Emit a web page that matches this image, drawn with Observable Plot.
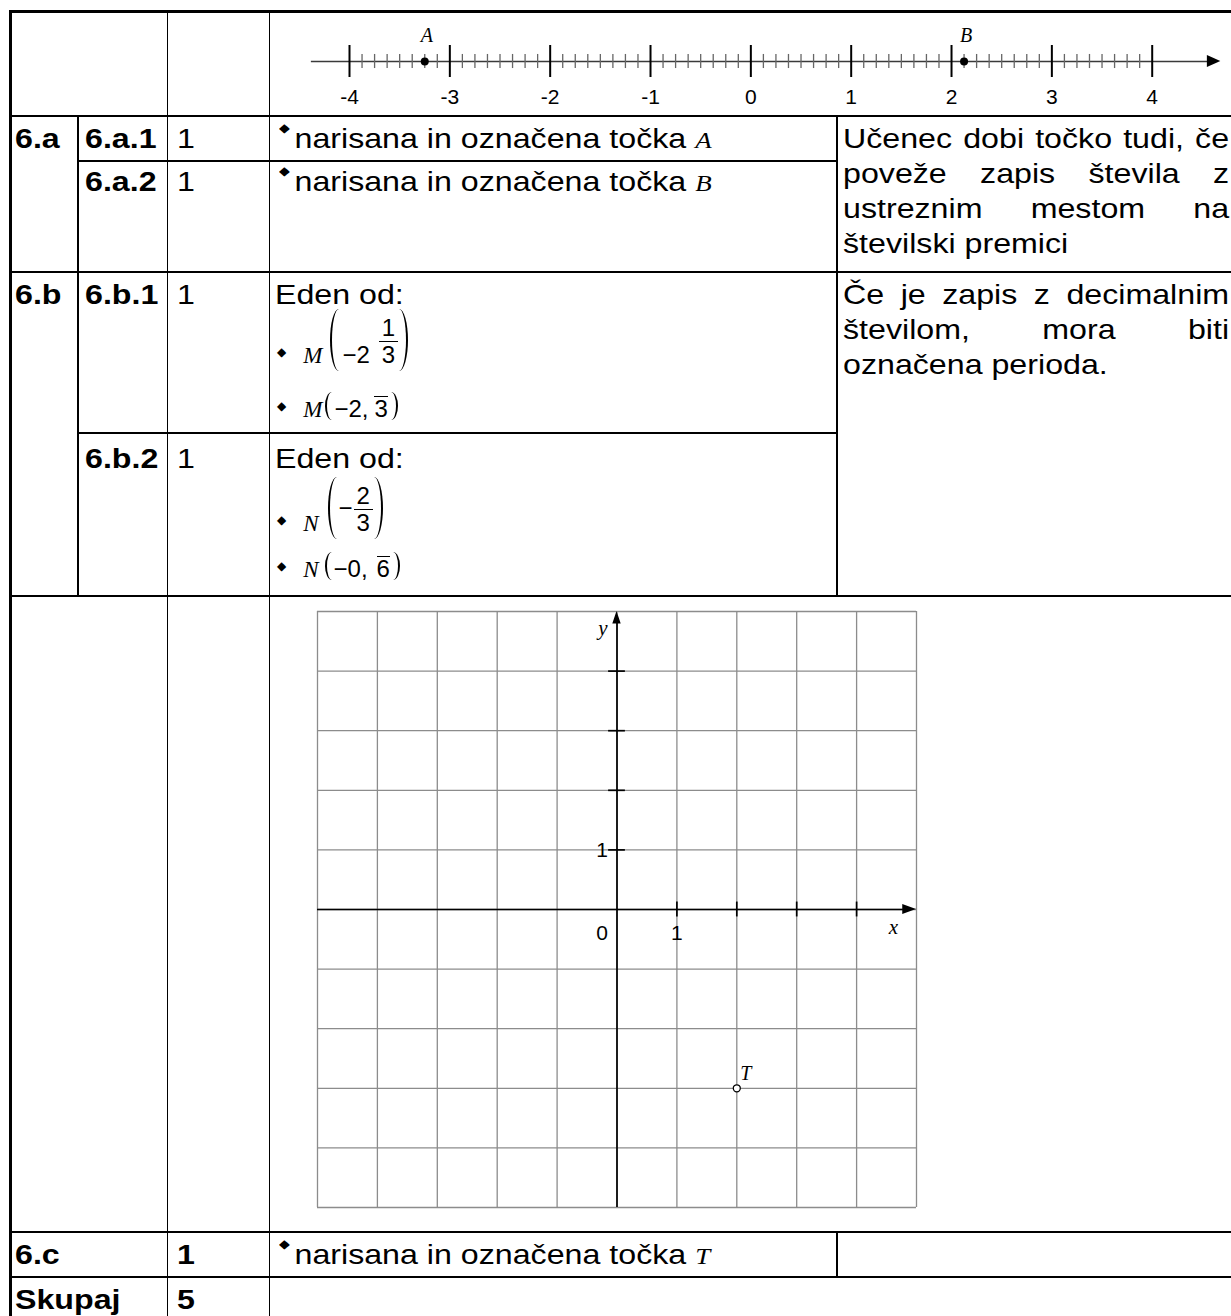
<!DOCTYPE html>
<html lang="sl">
<head>
<meta charset="utf-8">
<title>Naloga 6</title>
<script src="https://cdn.jsdelivr.net/npm/d3@7"></script>
<script src="https://cdn.jsdelivr.net/npm/@observablehq/plot@0.6"></script>
<style>
html,body{margin:0;padding:0;background:#fff;}
#page{position:relative;width:1231px;height:1316px;overflow:hidden;background:#fff;color:#000;font-family:"Liberation Sans",Arial,sans-serif;}
.h{position:absolute;height:1.5px;background:#000;}
.v{position:absolute;width:1.5px;background:#000;}
.t{position:absolute;font-size:27.5px;line-height:27.5px;white-space:nowrap;transform:scaleX(1.17);transform-origin:0 0;}
.note{position:absolute;font-size:27.5px;line-height:35px;width:330px;text-align:justify;transform:scaleX(1.17);transform-origin:0 0;}
.b{font-weight:bold;}
.bul{font-family:"DejaVu Sans";font-size:12px;position:relative;}
.var{font-family:"Liberation Serif";font-style:italic;font-size:23px;}
.ml{position:absolute;font-size:30px;line-height:35px;white-space:nowrap;}
.mi{font-family:"Liberation Serif";font-style:italic;font-size:23px;}
.mn{font-size:24px;}
.pl,.pr,.spl,.spr{display:inline-block;box-sizing:border-box;position:relative;vertical-align:baseline;}
.pl,.pr{width:9px;height:62px;margin-top:-62px;top:8px;}
.spl,.spr{width:7px;height:28px;margin-top:-28px;top:3px;}
.pl{border-left:2.2px solid #000;border-radius:9px 0 0 9px / 31px 0 0 31px;}
.pr{border-right:2.2px solid #000;border-radius:0 9px 9px 0 / 0 31px 31px 0;}
.spl{border-left:2px solid #000;border-radius:7px 0 0 7px / 14px 0 0 14px;}
.spr{border-right:2px solid #000;border-radius:0 7px 7px 0 / 0 14px 14px 0;}
.frac{display:inline-block;vertical-align:baseline;text-align:center;margin-top:-25px;font-size:24px;line-height:1;}
.frac .fn{display:block;padding:0 3px 1px;}
.frac .fd{display:block;border-top:1.5px solid #000;padding:1px 3px 0;}
.ov{display:inline-block;border-top:1.5px solid #000;line-height:1;font-size:24px;}
.fig{position:absolute;}
</style>
</head>
<body>
<div id="page">
  <!-- table rules -->
  <div class="h" style="left:9px;top:9.5px;width:1222px;height:3px"></div>
  <div class="v" style="left:9px;top:9.5px;height:1307px;width:3px"></div>
  <div class="h" style="left:9px;top:115px;width:1222px"></div>
  <div class="h" style="left:77px;top:160px;width:760px"></div>
  <div class="h" style="left:9px;top:271px;width:1222px"></div>
  <div class="h" style="left:77px;top:432px;width:760px"></div>
  <div class="h" style="left:9px;top:595px;width:1222px"></div>
  <div class="h" style="left:9px;top:1231px;width:1222px"></div>
  <div class="h" style="left:9px;top:1276px;width:1222px"></div>
  <div class="v" style="left:77px;top:115px;height:481px"></div>
  <div class="v" style="left:166.5px;top:10px;height:1306px"></div>
  <div class="v" style="left:268.5px;top:10px;height:1306px"></div>
  <div class="v" style="left:836.3px;top:115px;height:481px"></div>
  <div class="v" style="left:836.3px;top:1231px;height:46px;width:2px"></div>

  <!-- 6.a -->
  <div class="t b" style="left:15px;top:124.7px">6.a</div>
  <div class="t b" style="left:85px;top:124.7px">6.a.1</div>
  <div class="t" style="left:177px;top:124.7px">1</div>
  <div class="t" style="left:279px;top:124.7px"><span class="bul" style="top:-16px;margin-right:4px">◆</span>narisana in označena točka <span class="var">A</span></div>
  <div class="t b" style="left:85px;top:167.7px">6.a.2</div>
  <div class="t" style="left:177px;top:167.7px">1</div>
  <div class="t" style="left:279px;top:167.7px"><span class="bul" style="top:-16px;margin-right:4px">◆</span>narisana in označena točka <span class="var">B</span></div>
  <div class="note" style="left:843px;top:121px">Učenec dobi točko tudi, če poveže zapis števila z ustreznim mestom na številski premici</div>

  <!-- 6.b -->
  <div class="t b" style="left:15px;top:280.7px">6.b</div>
  <div class="t b" style="left:85px;top:280.7px">6.b.1</div>
  <div class="t" style="left:177px;top:280.7px">1</div>
  <div class="t" style="left:275px;top:280.7px">Eden od:</div>
  <div class="ml" style="left:277px;top:335px"><span class="bul" style="top:-7px">◆</span><span class="mi" style="margin-left:17px">M</span><span class="pl" style="margin-left:8px;margin-right:3px"></span><span class="mn">−2</span><span class="frac" style="margin-left:9px"><span class="fn">1</span><span class="fd">3</span></span><span class="pr" style="margin-left:1px"></span></div>
  <div class="ml" style="left:277px;top:389px"><span class="bul" style="top:-7px">◆</span><span class="mi" style="margin-left:17px">M</span><span class="spl" style="margin-left:3px;margin-right:2px"></span><span class="mn">−2,</span><span class="ov" style="margin-left:6px">3</span><span class="spr" style="margin-left:3px"></span></div>
  <div class="t b" style="left:85px;top:444.7px">6.b.2</div>
  <div class="t" style="left:177px;top:444.7px">1</div>
  <div class="t" style="left:275px;top:444.7px">Eden od:</div>
  <div class="ml" style="left:277px;top:503px"><span class="bul" style="top:-7px">◆</span><span class="mi" style="margin-left:17px">N</span><span class="pl" style="margin-left:9px;margin-right:2px"></span><span class="mn" style="position:relative;top:-15px">−</span><span class="frac" style="margin-left:1px"><span class="fn">2</span><span class="fd">3</span></span><span class="pr" style="margin-left:1px"></span></div>
  <div class="ml" style="left:277px;top:549px"><span class="bul" style="top:-7px">◆</span><span class="mi" style="margin-left:17px">N</span><span class="spl" style="margin-left:6px;margin-right:2px"></span><span class="mn">−0,</span><span class="ov" style="margin-left:9px">6</span><span class="spr" style="margin-left:3px"></span></div>
  <div class="note" style="left:843px;top:277px">Če je zapis z decimalnim številom, mora biti označena perioda.</div>

  <!-- 6.c and total -->
  <div class="t b" style="left:15px;top:1240.7px">6.c</div>
  <div class="t b" style="left:177px;top:1240.7px">1</div>
  <div class="t" style="left:279px;top:1240.7px"><span class="bul" style="top:-16px;margin-right:4px">◆</span>narisana in označena točka <span class="var">T</span></div>
  <div class="t b" style="left:15px;top:1285.7px">Skupaj</div>
  <div class="t b" style="left:177px;top:1285.7px">5</div>

  <div id="numberline" class="fig" style="left:270px;top:12px"></div>
  <div id="grid" class="fig" style="left:270px;top:597px"></div>
</div>
<script>
// ---- number line data ----
const nlTicks = [-4, -3, -2, -1, 0, 1, 2, 3, 4];
const nlTickLabels = ["-4", "-3", "-2", "-1", "0", "1", "2", "3", "4"];
const nlSubdivisions = 8;
const nlPoints = [{name: "A", value: -3.25}, {name: "B", value: 2.125}];
const nlLine = [{x1: -4.38, x2: 4.56}];
const nlArrowHead = [{x: 4.55, y1: -0.19, y2: 0.19}, {x: 4.684, y1: 0, y2: 0}];

// ---- coordinate grid data ----
const gridValues = [-5, -4, -3, -2, -1, 0, 1, 2, 3, 4, 5];
const axisTickValues = [1, 2, 3, 4];
const xTickLabels = [{v: 1, label: "1"}];
const yTickLabels = [{v: 1, label: "1"}];
const originLabel = [{label: "0"}];
const xAxisLine = [{x1: -5, x2: 4.78}];
const yAxisLine = [{y1: -5, y2: 4.8}];
const xArrowHead = [{x: 4.77, y1: -0.085, y2: 0.085}, {x: 5, y1: 0, y2: 0}];
const yArrowHead = [{y: 4.79, x1: -0.07, x2: 0.07}, {y: 5, x1: 0, x2: 0}];
const axisNameX = [{name: "x", x: 5, y: 0}];
const axisNameY = [{name: "y", x: 0, y: 5}];
const gridPoints = [{name: "T", x: 2, y: -3}];

const nlMinor = d3.range(nlTicks[0], nlTicks[nlTicks.length - 1], 1 / nlSubdivisions)
  .filter(v => !Number.isInteger(v));
const nlTickData = nlTicks.map((v, i) => ({v, label: nlTickLabels[i]}));

const numberLine = Plot.plot({
  width: 961, height: 103, margin: 0,
  style: {background: "transparent", overflow: "visible"},
  x: {domain: [-4, 4], range: [79, 881.7], axis: null},
  y: {domain: [-1, 1], range: [81, 17], axis: null},
  marks: [
    Plot.ruleY(nlLine, {y: 0, x1: "x1", x2: "x2", stroke: "#3a3a3a", strokeWidth: 1.6}),
    Plot.areaY(nlArrowHead, {x: "x", y1: "y1", y2: "y2", fill: "#000"}),
    Plot.ruleX(nlMinor, {y1: -0.22, y2: 0.22, stroke: "#666", strokeWidth: 1.3}),
    Plot.ruleX(nlTicks, {y1: -0.5, y2: 0.5, stroke: "#000", strokeWidth: 2}),
    Plot.text(nlTickData, {x: "v", y: 0, dy: 36, text: "label", fontSize: 21, fontFamily: "Liberation Sans"}),
    Plot.dot(nlPoints, {x: "value", y: 0, r: 4, fill: "#000", stroke: null}),
    Plot.text(nlPoints, {x: "value", y: 0, dx: 2, dy: -26, text: "name", fontSize: 20, fontStyle: "italic", fontFamily: "Liberation Serif"})
  ]
});
document.getElementById("numberline").appendChild(numberLine);

const grid = Plot.plot({
  width: 700, height: 634, margin: 0,
  style: {background: "transparent", overflow: "visible"},
  x: {domain: [-5, 5], range: [47, 646], axis: null},
  y: {domain: [-5, 5], range: [610, 14], axis: null},
  marks: [
    Plot.ruleX(gridValues, {y1: -5, y2: 5, stroke: "#8c8c8c", strokeWidth: 1.3}),
    Plot.ruleY(gridValues, {x1: -5, x2: 5, stroke: "#8c8c8c", strokeWidth: 1.3}),
    Plot.ruleY(xAxisLine, {y: 0, x1: "x1", x2: "x2", stroke: "#000", strokeWidth: 1.7}),
    Plot.areaY(xArrowHead, {x: "x", y1: "y1", y2: "y2", fill: "#000"}),
    Plot.ruleX(yAxisLine, {x: 0, y1: "y1", y2: "y2", stroke: "#000", strokeWidth: 1.7}),
    Plot.areaX(yArrowHead, {y: "y", x1: "x1", x2: "x2", fill: "#000"}),
    Plot.ruleX(axisTickValues, {y1: -0.125, y2: 0.125, stroke: "#000", strokeWidth: 1.7}),
    Plot.ruleY(axisTickValues, {x1: -0.14, x2: 0.14, stroke: "#000", strokeWidth: 1.7}),
    Plot.text(originLabel, {x: 0, y: 0, dx: -15, dy: 24, text: "label", fontSize: 21, fontFamily: "Liberation Sans"}),
    Plot.text(xTickLabels, {x: "v", y: 0, dy: 24, text: "label", fontSize: 21, fontFamily: "Liberation Sans"}),
    Plot.text(yTickLabels, {x: 0, y: "v", dx: -15, text: "label", fontSize: 21, fontFamily: "Liberation Sans"}),
    Plot.text(axisNameX, {x: "x", y: "y", dx: -23, dy: 18, text: "name", fontSize: 21, fontStyle: "italic", fontFamily: "Liberation Serif"}),
    Plot.text(axisNameY, {x: "x", y: "y", dx: -14, dy: 17, text: "name", fontSize: 21, fontStyle: "italic", fontFamily: "Liberation Serif"}),
    Plot.dot(gridPoints, {x: "x", y: "y", r: 3.5, fill: "#fff", stroke: "#000", strokeWidth: 1.3}),
    Plot.text(gridPoints, {x: "x", y: "y", dx: 9, dy: -15, text: "name", fontSize: 20, fontStyle: "italic", fontFamily: "Liberation Serif"})
  ]
});
document.getElementById("grid").appendChild(grid);
</script>
</body>
</html>
